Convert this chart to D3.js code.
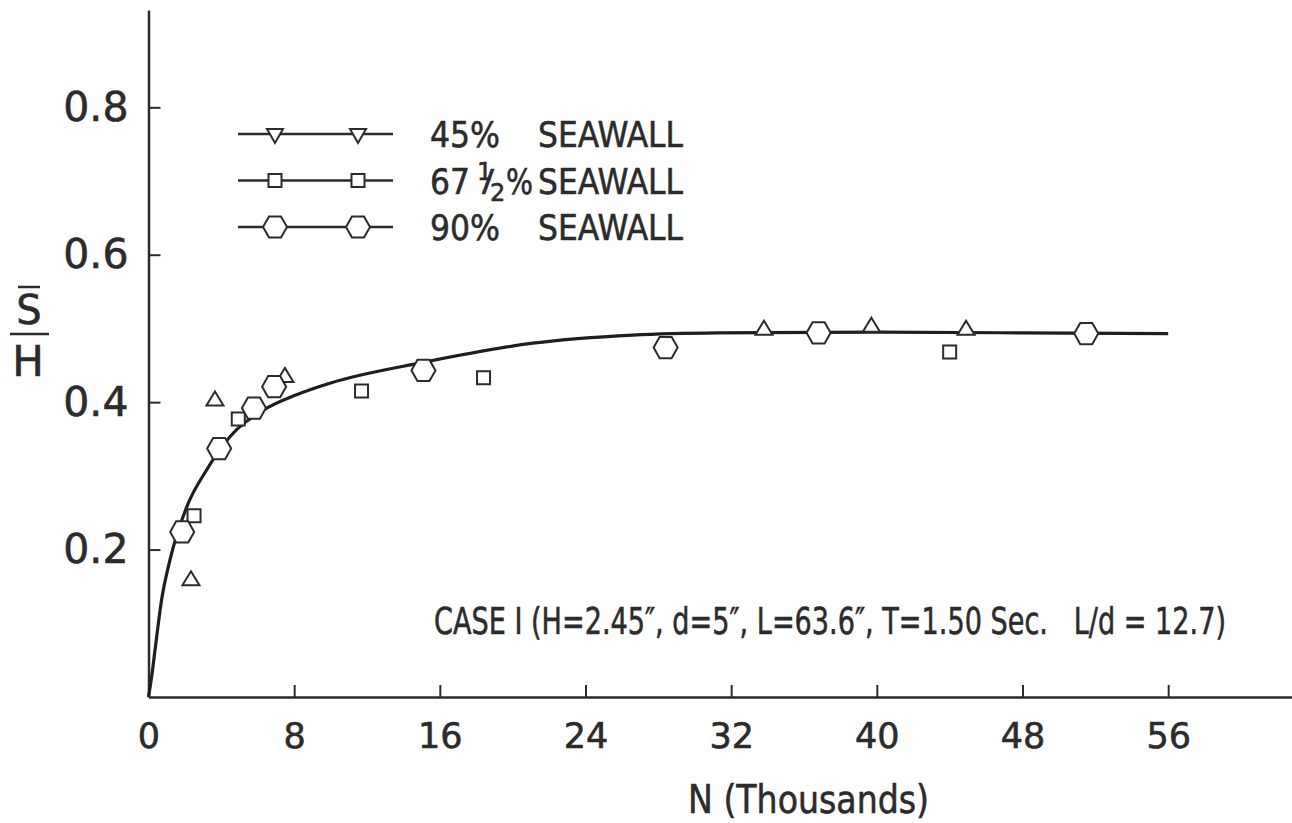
<!DOCTYPE html>
<html>
<head>
<meta charset="utf-8">
<script src="https://cdn.jsdelivr.net/npm/d3@7/dist/d3.min.js"></script>
<style>
body{margin:0;background:#fff;}
svg text{font-family:"DejaVu Sans",sans-serif;fill:#2b2b2b;stroke:#2b2b2b;stroke-width:0.6px;white-space:pre;}
</style>
</head>
<body>
<script>
var fitN  = [0, 0.17, 0.36, 0.72, 1.18, 2.1, 3.19, 4.47, 6.3, 8.13, 10, 15.1, 21.1, 26.6, 31.3, 40, 48, 56];
var fitSH = [0, 0.027, 0.064, 0.132, 0.186, 0.258, 0.308, 0.353, 0.389, 0.41, 0.426, 0.454, 0.48, 0.491, 0.494, 0.495, 0.494, 0.493];

var tri45N  = [2.33, 3.65, 7.49, 33.8, 39.7, 44.9];
var tri45SH = [0.161, 0.405, 0.437, 0.501, 0.505, 0.501];

var sq67N  = [2.5, 4.93, 11.7, 18.4, 44.0];
var sq67SH = [0.246, 0.377, 0.415, 0.433, 0.468];

var hex90N  = [1.85, 3.88, 5.79, 6.9, 15.1, 28.4, 36.8, 51.5];
var hex90SH = [0.224, 0.337, 0.392, 0.421, 0.443, 0.474, 0.494, 0.493];

var xTicks = [0, 8, 16, 24, 32, 40, 48, 56];
var yTicks = [0.2, 0.4, 0.6, 0.8];

var legendPct = ["45%", "67", "90%"];
var legendWord = "SEAWALL";
var legendShape = ["down", "square", "hex"];

var caseText = "CASE I (H=2.45\u2033, d=5\u2033, L=63.6\u2033, T=1.50 Sec.   L/d = 12.7)";
var xTitle = "N (Thousands)";

var width = 1292, height = 823;
var ink = "#2b2b2b";

var svg = d3.select("body").append("svg")
    .attr("width", width)
    .attr("height", height);

var x = d3.scaleLinear().domain([0, 62.8]).range([148.5, 1292]);
var y = d3.scaleLinear().domain([0, 0.932]).range([697, 10]);

// axes, ticks point inward
var gx = svg.append("g")
    .attr("transform", "translate(0," + y(0) + ")")
    .call(d3.axisBottom(x).tickValues(xTicks).tickSizeInner(-12).tickSizeOuter(0)
        .tickPadding(26).tickFormat(d3.format("d")));
gx.selectAll("text").attr("font-size", 35).attr("fill", ink);

var gy = svg.append("g")
    .attr("transform", "translate(" + x(0) + ",0)")
    .call(d3.axisLeft(y).tickValues(yTicks).tickSizeInner(-12).tickSizeOuter(0)
        .tickPadding(20).tickFormat(d3.format(".1f")));
gy.selectAll("text").attr("font-size", 41).attr("fill", ink);

svg.selectAll(".domain").attr("stroke", ink).attr("stroke-width", 2.5);
svg.selectAll(".tick line").attr("stroke", ink).attr("stroke-width", 2);

// fitted curve
var fitPts = fitN.map(function(d, i){ return [d, fitSH[i]]; });
var line = d3.line()
    .x(function(d){ return x(d[0]); })
    .y(function(d){ return y(d[1]); })
    .curve(d3.curveMonotoneX);

svg.append("path")
    .datum(fitPts)
    .attr("d", line)
    .attr("fill", "none")
    .attr("stroke", "#1e1e1e")
    .attr("stroke-width", 3.2);

function markerPath(shape){
    if(shape == "hex"){
        var r = 12, h = 10.6;
        return "M" + r + ",0L" + r/2 + "," + (-h) + "L" + (-r/2) + "," + (-h) +
               "L" + (-r) + ",0L" + (-r/2) + "," + h + "L" + r/2 + "," + h + "Z";
    }
    if(shape == "square"){
        return "M-6.5,-6.5H6.5V6.5H-6.5Z";
    }
    if(shape == "down"){
        return "M-8,-5L8,-5L0,9Z";
    }
    return "M0,-7L8.5,7L-8.5,7Z";
}

function drawSeries(ns, vals, shape){
    svg.append("g").selectAll("path")
        .data(ns.map(function(d, i){ return [d, vals[i]]; }))
        .enter().append("path")
        .attr("transform", function(d){ return "translate(" + x(d[0]) + "," + y(d[1]) + ")"; })
        .attr("d", markerPath(shape))
        .attr("fill", "#fff")
        .attr("stroke", ink)
        .attr("stroke-width", 2);
}

drawSeries(sq67N, sq67SH, "square");
drawSeries(tri45N, tri45SH, "up");
drawSeries(hex90N, hex90SH, "hex");

// legend
var legend = svg.append("g");
legendShape.forEach(function(s, i){
    var ly = 134 + i * 46.5;
    legend.append("line")
        .attr("x1", 238).attr("x2", 393)
        .attr("y1", ly).attr("y2", ly)
        .attr("stroke", ink).attr("stroke-width", 2.5);
    [275, 358].forEach(function(mx){
        legend.append("path")
            .attr("transform", "translate(" + mx + "," + ly + ")")
            .attr("d", markerPath(s))
            .attr("fill", "#fff")
            .attr("stroke", ink)
            .attr("stroke-width", 2);
    });
    if(i == 1){
        // 67 1/2 %  built from small pieces
        legend.append("text").attr("x", 430).attr("y", ly + 13).attr("font-size", 36)
            .attr("textLength", 40).attr("lengthAdjust", "spacingAndGlyphs").text(legendPct[i]);
        legend.append("text").attr("x", 477).attr("y", ly - 1).attr("font-size", 24).text("1");
        legend.append("text").attr("x", 482).attr("y", ly + 10).attr("font-size", 30)
            .attr("textLength", 12).attr("lengthAdjust", "spacingAndGlyphs").text("/");
        legend.append("text").attr("x", 490).attr("y", ly + 20).attr("font-size", 24).text("2");
        legend.append("text").attr("x", 506).attr("y", ly + 13).attr("font-size", 36)
            .attr("textLength", 27).attr("lengthAdjust", "spacingAndGlyphs").text("%");
    } else {
        legend.append("text").attr("x", 430).attr("y", ly + 13).attr("font-size", 36)
            .attr("textLength", 70).attr("lengthAdjust", "spacingAndGlyphs").text(legendPct[i]);
    }
    legend.append("text")
        .attr("x", 538).attr("y", ly + 13)
        .attr("font-size", 36)
        .attr("textLength", 145)
        .attr("lengthAdjust", "spacingAndGlyphs")
        .text(legendWord);
});

// case annotation
svg.append("text")
    .attr("x", 434).attr("y", 634)
    .attr("font-size", 38)
    .attr("textLength", 792)
    .attr("lengthAdjust", "spacingAndGlyphs")
    .text(caseText);

// axis titles
svg.append("text")
    .attr("x", 688).attr("y", 813)
    .attr("font-size", 39)
    .attr("textLength", 241)
    .attr("lengthAdjust", "spacingAndGlyphs")
    .text(xTitle);

var yl = svg.append("g");
yl.append("text").attr("x", 29).attr("y", 324).attr("text-anchor", "middle")
    .attr("font-size", 40).text("S");
yl.append("line").attr("x1", 18).attr("x2", 40).attr("y1", 287).attr("y2", 287)
    .attr("stroke", ink).attr("stroke-width", 2.5);
yl.append("line").attr("x1", 10).attr("x2", 49).attr("y1", 334).attr("y2", 334)
    .attr("stroke", ink).attr("stroke-width", 2.5);
yl.append("text").attr("x", 28).attr("y", 376).attr("text-anchor", "middle")
    .attr("font-size", 42).text("H");
</script>
</body>
</html>
